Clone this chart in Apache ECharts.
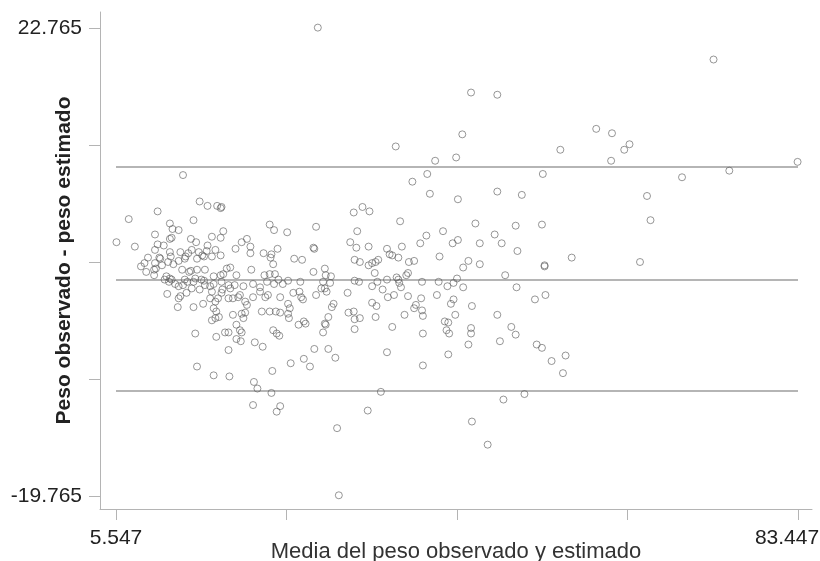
<!DOCTYPE html>
<html>
<head>
<meta charset="utf-8">
<script src="https://cdn.jsdelivr.net/npm/echarts@6/dist/echarts.min.js"></script>
<style>
  html, body { margin: 0; padding: 0; background: #fff; }
  #chart { width: 820px; height: 561px; }
</style>
</head>
<body>
<div id="chart"></div>
<script>
// axis ticks (only the ends are labelled in the original)
const xTicks = [5.547, 25.022, 44.497, 63.972, 83.447]
const yTicks = [-19.765, -9.1325, 1.5, 12.1325, 22.765]
const xLabels = [5.547, 83.447]
const yLabels = [-19.765, 22.765]

// upper limit, mean difference, lower limit
const limits = [10.14, -0.14, -10.23]

// [mean of observed & estimated weight, observed - estimated]
const points = [
  [5.6,3.3],[7.0,5.4],[7.7,2.9],[10.3,6.1],[13.2,9.4],[15.1,7.0],[16.0,6.6],[17.1,6.6],[17.5,6.4],[14.4,5.3],
  [11.7,5.0],[12.0,4.5],[12.7,4.4],[10.0,4.0],[17.8,4.3],[16.5,3.8],[17.5,3.7],[11.7,3.6],[11.9,3.7],[14.1,3.6],
  [14.7,3.3],[10.3,3.1],[11.0,3.0],[10.0,2.6],[16.0,3.0],[15.9,2.5],[11.7,2.4],[12.9,2.4],[13.8,2.3],[15.0,2.4],
  [10.5,1.9],[11.8,2.0],[13.5,2.0],[15.4,2.1],[17.5,2.1],[8.8,1.4],[10.0,1.4],[10.6,1.8],[9.0,0.6],[9.9,0.8],
  [10.1,0.9],[9.9,0.3],[10.8,1.2],[11.5,1.5],[12.1,1.3],[12.7,1.6],[13.4,1.8],[14.8,1.8],[15.6,2.0],[11.1,-0.1],
  [11.7,0.0],[11.6,-0.3],[13.1,0.8],[13.9,0.6],[14.1,0.7],[14.8,0.8],[15.7,0.8],[12.3,-0.5],[12.7,-0.7],[13.2,-0.6],
  [11.4,-1.4],[12.7,-1.8],[12.9,-1.6],[13.6,-1.3],[15.1,-1.0],[15.3,-0.1],[15.6,-0.2],[14.4,-0.3],[14.6,0.0],[16.7,0.2],
  [17.5,0.3],[17.8,0.4],[16.3,-0.7],[16.5,-1.2],[16.7,-0.5],[12.6,-2.6],[14.4,-2.6],[15.5,-2.3],[16.3,-1.8],[16.9,-2.1],
  [16.7,-2.7],[17.0,-3.0],[17.3,-3.5],[16.9,-3.6],[16.5,-3.8],[14.6,-5.0],[17.0,-5.3],[14.8,-8.0],[16.7,-8.8],[17.6,6.5],
  [11.3,0.2],[11.9,-0.1],[13.4,-0.1],[13.7,-0.3],[14.2,-0.9],[15.7,-0.6],[17.6,-1.3],[17.2,-1.8],[14.2,2.6],[16.9,2.6],
  [16.5,2.0],[9.2,1.9],[8.4,1.1],
  [23.1,4.9],[23.6,4.4],[25.1,4.2],[28.4,4.7],[20.5,3.6],[19.9,3.3],[19.2,2.7],[20.9,2.9],[20.9,2.3],[22.4,2.3],
  [23.3,2.2],[24.0,2.7],[28.1,2.8],[28.2,2.7],[25.9,1.8],[26.8,1.7],[23.2,1.9],[23.5,1.3],[21.0,0.8],[18.2,0.9],
  [18.6,1.0],[19.3,0.3],[28.1,0.6],[29.4,0.9],[29.5,0.3],[30.1,0.2],[22.5,0.3],[23.1,0.4],[23.7,0.4],[17.6,-0.3],
  [18.4,-0.6],[19.1,-0.6],[20.1,-0.7],[21.2,-0.5],[22.0,-0.8],[22.8,-0.3],[23.6,-0.5],[24.1,-0.1],[24.6,-0.5],[25.2,-0.2],
  [26.6,-0.3],[29.2,-0.3],[30.0,-0.4],[29.4,-0.9],[29.6,-1.2],[29.0,-0.9],[17.7,-1.0],[18.6,-0.9],[18.9,-1.8],[18.4,-1.8],
  [19.5,-1.7],[19.7,-1.5],[20.3,-2.1],[20.5,-2.4],[21.2,-1.7],[22.0,-1.2],[22.6,-1.7],[22.9,-1.5],[24.3,-1.7],[25.8,-1.3],
  [26.5,-1.2],[26.7,-1.7],[26.9,-1.9],[28.4,-1.5],[25.2,-2.3],[25.4,-2.7],[25.3,-3.6],[25.2,-3.2],[22.2,-3.0],[23.1,-3.0],
  [23.8,-3.0],[24.3,-3.1],[18.9,-3.3],[19.9,-3.2],[20.3,-3.1],[20.1,-3.6],[30.2,-2.6],[30.4,-2.3],[29.8,-3.5],[29.4,-4.1],
  [29.5,-4.2],[29.2,-4.9],[26.4,-4.2],[27.0,-3.9],[27.2,-4.1],[19.3,-4.2],[19.7,-4.7],[19.9,-4.9],[18.0,-4.9],[18.4,-4.9],
  [19.3,-5.5],[19.8,-5.7],[23.5,-4.7],[23.9,-5.0],[24.2,-5.2],[21.4,-5.8],[22.3,-6.2],[18.4,-6.5],[28.2,-6.4],[29.8,-6.4],
  [30.6,-7.2],[25.5,-7.7],[27.0,-7.3],[27.7,-8.0],[23.4,-8.4],[18.5,-8.9],[21.3,-9.4],[21.7,-10.0],[23.3,-10.4],[21.2,-11.5],
  [24.3,-11.6],[23.9,-12.1],[28.6,22.8],[37.5,12.0],[42.0,10.7],[44.4,11.0],[41.1,9.5],[39.4,8.8],[41.4,7.7],[44.6,7.2],
  [32.7,6.0],[33.7,6.5],[34.5,6.1],[38.0,5.2],[33.1,4.3],[42.9,4.3],[41.0,3.9],[32.3,3.3],[33.0,2.8],[34.4,2.9],
  [36.5,2.7],[36.8,2.2],[37.1,2.1],[37.8,1.9],[38.2,2.9],[40.3,3.2],[44.0,3.2],[44.6,3.5],[42.5,2.0],[32.8,1.7],
  [33.4,1.5],[34.4,1.2],[34.8,1.4],[35.2,1.5],[35.5,1.7],[39.0,1.5],[39.6,1.6],[45.2,1.0],[35.1,0.5],[32.8,-0.2],
  [33.3,-0.3],[34.8,-0.7],[35.4,-0.3],[36.5,-0.1],[37.6,0.1],[37.8,-0.1],[37.9,-0.4],[38.1,-0.8],[38.7,0.3],[38.9,0.5],
  [40.5,-0.3],[42.4,-0.3],[43.4,-0.7],[44.1,-0.4],[44.5,0.0],[45.2,-0.8],[32.0,-1.3],[36.0,-1.0],[36.6,-1.7],[37.3,-1.5],
  [38.9,-1.6],[40.4,-1.8],[39.8,-2.4],[39.6,-2.7],[40.5,-2.9],[40.6,-3.4],[42.2,-1.5],[44.1,-1.9],[43.8,-2.3],[44.3,-3.3],
  [34.8,-2.2],[35.3,-2.5],[35.2,-3.5],[32.1,-3.1],[32.7,-3.0],[32.8,-3.7],[33.4,-3.6],[32.8,-4.6],[38.5,-3.3],[37.1,-4.4],
  [43.1,-3.9],[43.5,-4.0],[43.3,-4.7],[43.6,-5.0],[40.6,-5.0],[36.5,-6.7],[43.5,-6.9],[40.6,-7.9],[35.8,-10.3],[30.8,-13.6],
  [31.0,-19.7],[34.3,-12.0],[46.1,16.9],[49.1,16.7],[45.1,13.1],[56.3,11.7],[54.3,9.5],[49.1,7.9],[51.9,7.6],[46.6,5.0],
  [51.2,4.8],[54.2,4.9],[48.8,4.0],[47.1,3.2],[49.6,3.2],[51.4,2.5],[57.6,1.9],[45.8,1.6],[47.1,1.3],[54.5,1.1],
  [54.5,1.2],[50.0,0.3],[51.3,-0.8],[53.4,-1.9],[54.6,-1.5],[46.2,-2.5],[49.1,-3.3],[46.1,-4.5],[46.1,-5.0],[45.8,-6.0],
  [50.7,-4.4],[51.2,-5.1],[49.4,-5.7],[53.6,-6.0],[54.2,-6.3],[55.3,-7.5],[56.9,-7.0],[56.6,-8.6],[49.8,-11.0],[52.2,-10.5],
  [46.2,-13.0],[48.0,-15.1],[73.8,19.9],[60.4,13.6],[62.2,13.2],[64.2,12.2],[63.6,11.7],[62.1,10.7],[83.4,10.6],[75.6,9.8],
  [70.2,9.2],[66.2,7.5],[66.6,5.3],[65.4,1.5]
]

const axisGray = '#b4b4b4'
const font = 'Liberation Sans, Arial, Helvetica, sans-serif'

const chart = echarts.init(document.getElementById('chart'), null, { renderer: 'canvas' })

const limitSeries = limits.map(v => ({
  type: 'line',
  data: [[xTicks[0], v], [xTicks[xTicks.length - 1], v]],
  symbol: 'none',
  silent: true,
  lineStyle: { color: '#9c9c9c', width: 1.5 },
  z: 1
}))

const option = {
  backgroundColor: '#ffffff',
  animation: false,
  grid: { left: 100, right: 8, top: 12, bottom: 52, containLabel: false, outerBoundsMode: 'none' },
  xAxis: {
    type: 'value',
    min: 3.719,
    max: 85.046,
    name: 'Media del peso observado y estimado',
    nameLocation: 'middle',
    nameGap: 32,
    nameMoveOverlap: false,
    nameTextStyle: { fontSize: 22, color: '#333', fontFamily: font },
    splitLine: { show: false },
    axisLine: { onZero: false, lineStyle: { color: axisGray, width: 1 } },
    axisTick: { customValues: xTicks, length: 11, lineStyle: { color: axisGray } },
    axisLabel: {
      customValues: xLabels,
      // the last label is nudged left so it stays inside the picture
      formatter: v => v === xLabels[1] ? '{end|' + v.toFixed(3) + '}' : v.toFixed(3),
      rich: { end: { fontSize: 21, color: '#222', fontFamily: font, padding: [0, 22, 0, 0] } },
      fontSize: 21,
      color: '#222',
      fontFamily: font,
      margin: 19
    }
  },
  yAxis: {
    type: 'value',
    min: -20.946,
    max: 24.219,
    name: 'Peso observado - peso estimado',
    nameLocation: 'middle',
    nameGap: 25,
    nameMoveOverlap: false,
    nameTextStyle: { fontSize: 21, fontWeight: 'bold', color: '#222', fontFamily: font },
    splitLine: { show: false },
    axisLine: { onZero: false, lineStyle: { color: axisGray, width: 1 } },
    axisTick: { customValues: yTicks, length: 11, lineStyle: { color: axisGray } },
    axisLabel: {
      customValues: yLabels,
      formatter: v => v.toFixed(3),
      fontSize: 21,
      color: '#222',
      fontFamily: font,
      margin: 18
    }
  },
  series: [
    ...limitSeries,
    {
      type: 'scatter',
      data: points,
      symbol: 'circle',
      symbolSize: 7,
      itemStyle: { color: 'rgba(0,0,0,0)', borderColor: '#5c5c5c', borderWidth: 0.8 },
      z: 2
    }
  ]
}

chart.setOption(option)
</script>
</body>
</html>
